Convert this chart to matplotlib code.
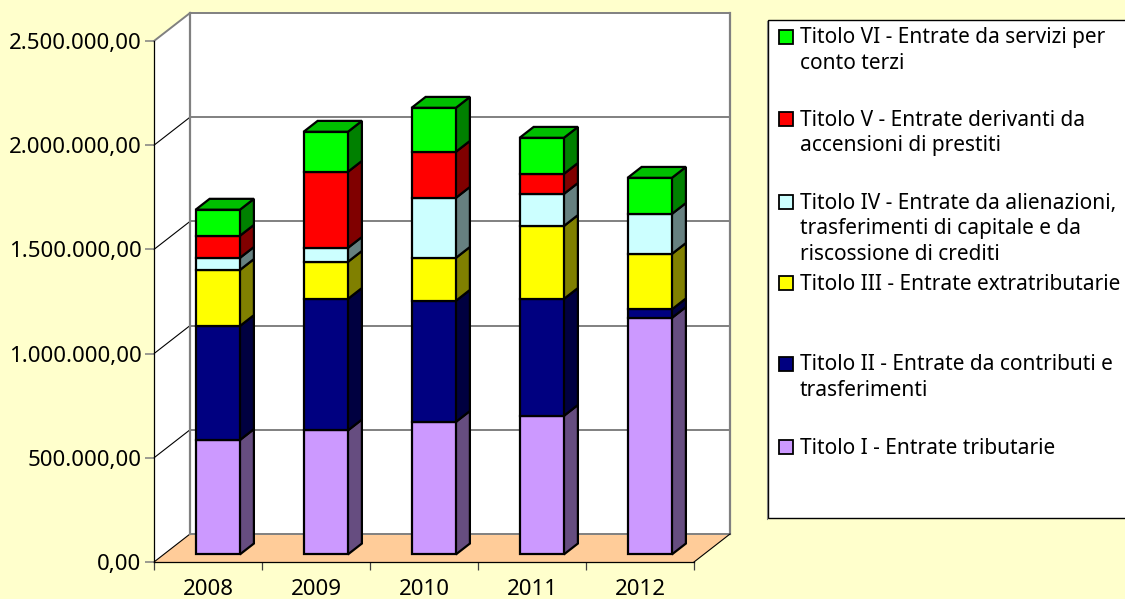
import matplotlib
matplotlib.use('Agg')
import matplotlib.pyplot as plt
from matplotlib.patches import Rectangle

years = ['2008', '2009', '2010', '2011', '2012']

# stacked from bottom to top
titolo_1 = [549000, 595000, 636000, 665000, 1135000]
titolo_2 = [547000, 631000, 581000, 561000, 41000]
titolo_3 = [269000, 178000, 206000, 350000, 266000]
titolo_4 = [58000, 67000, 288000, 154000, 192000]
titolo_5 = [106000, 365000, 221000, 96000, 0]
titolo_6 = [125000, 192000, 211000, 173000, 173000]

series = [titolo_1, titolo_2, titolo_3, titolo_4, titolo_5, titolo_6]
colors = ['#CC99FF', '#000080', '#FFFF00', '#CCFFFF', '#FF0000', '#00FF00']

legend_labels = [
    'Titolo VI - Entrate da servizi per\nconto terzi',
    'Titolo V - Entrate derivanti da\naccensioni di prestiti',
    'Titolo IV - Entrate da alienazioni,\ntrasferimenti di capitale e da\nriscossione di crediti',
    'Titolo III - Entrate extratributarie',
    'Titolo II - Entrate da contributi e\ntrasferimenti',
    'Titolo I - Entrate tributarie',
]
legend_colors = colors[::-1]
legend_y = [37, 119, 202, 283, 364, 447]

W, H = 1125, 599
BG = '#FFFFCC'
GREY = '#808080'
FONT = 'Noto Sans'
FS_TICK = 16
FS_LEG = 15

# oblique offset of the back wall, in data units
DX = 36 / 108
DY = 28 / 104.2 * 500000
BAR_W = 0.41
BAR_FRONT = 0.27
BAR_BACK = 0.66
YMAX = 2500000


def proj(x, v, d):
    return x + d * DX, v + d * DY


def shade(col, k):
    r, g, b = matplotlib.colors.to_rgb(col)
    return (r * k, g * k, b * k)


def face(ax, corners, color, z=3):
    pts = [proj(*c) for c in corners]
    ax.fill([p[0] for p in pts], [p[1] for p in pts], facecolor=color, edgecolor='black',
            linewidth=1.6, joinstyle='miter', clip_on=False, zorder=z)


def money(v):
    return f'{v:,.2f}'.replace(',', 'X').replace('.', ',').replace('X', '.')


fig = plt.figure(figsize=(W / 100, H / 100), dpi=100, facecolor=BG)
ax = fig.add_axes([154 / W, 1 - 562 / H, 540 / W, 521 / H])
ax.set_xlim(0, 5)
ax.set_ylim(0, YMAX)
ax.patch.set_visible(False)
for s in ['top', 'right']:
    ax.spines[s].set_visible(False)
ax.spines['left'].set_color('black')
ax.spines['bottom'].set_color('black')
ax.spines['left'].set_linewidth(0.9)
ax.spines['bottom'].set_linewidth(0.9)

# walls and floor
bx = [proj(0, 0, 1)[0], proj(5, 0, 1)[0], proj(5, YMAX, 1)[0], proj(0, YMAX, 1)[0]]
by = [proj(0, 0, 1)[1], proj(5, 0, 1)[1], proj(5, YMAX, 1)[1], proj(0, YMAX, 1)[1]]
ax.fill(bx, by, color='white', clip_on=False, zorder=0, linewidth=0)
lx = [0, proj(0, 0, 1)[0], proj(0, YMAX, 1)[0], 0]
ly = [0, proj(0, 0, 1)[1], proj(0, YMAX, 1)[1], YMAX]
ax.fill(lx, ly, color='white', clip_on=False, zorder=0, linewidth=0)
fx = [0, 5, proj(5, 0, 1)[0], proj(0, 0, 1)[0]]
fy = [0, 0, proj(5, 0, 1)[1], proj(0, 0, 1)[1]]
ax.fill(fx, fy, color='#FFCC99', clip_on=False, zorder=0.5, linewidth=0)

# gridlines on back wall and diagonals on the left wall
for v in range(0, YMAX + 1, 500000):
    x0, y0 = proj(0, v, 1)
    x1, y1 = proj(5, v, 1)
    ax.plot([x0, x1], [y0, y1], color=GREY, lw=1.4, clip_on=False, zorder=1, solid_capstyle='projecting')
    col, lw = (GREY, 1.4) if v == YMAX else ('black', 0.8)
    ax.plot([0, x0], [v, y0], color=col, lw=lw, clip_on=False, zorder=1)
for x in (0, 5):
    x0, y0 = proj(x, 0, 1)
    x1, y1 = proj(x, YMAX, 1)
    ax.plot([x0, x1], [y0, y1], color=GREY, lw=1.6, clip_on=False, zorder=1)
x0, y0 = proj(5, 0, 1)
ax.plot([5, x0], [0, y0], color='black', lw=0.8, clip_on=False, zorder=1)

# stacked 3d bars
for i in range(len(years)):
    left = i + 0.5 - BAR_W / 2
    right = left + BAR_W
    bottom = 0
    top_color = None
    for vals, col in zip(series, colors):
        v = vals[i]
        if v == 0:
            continue
        top = bottom + v
        face(ax, [(right, bottom, BAR_FRONT), (right, bottom, BAR_BACK),
                  (right, top, BAR_BACK), (right, top, BAR_FRONT)], shade(col, 0.5))
        face(ax, [(left, bottom, BAR_FRONT), (right, bottom, BAR_FRONT),
                  (right, top, BAR_FRONT), (left, top, BAR_FRONT)], col, z=4)
        bottom = top
        top_color = col
    face(ax, [(left, bottom, BAR_FRONT), (right, bottom, BAR_FRONT),
              (right, bottom, BAR_BACK), (left, bottom, BAR_BACK)], shade(top_color, 0.75))

ax.set_xticks(range(6))
ax.set_xticklabels([])
ax.set_xticks([i + 0.5 for i in range(5)], labels=years, minor=True)
ax.tick_params(axis='x', which='major', length=6, width=0.9, color='#404040')
ax.tick_params(axis='x', which='minor', length=0, pad=12, labelsize=FS_TICK, labelcolor='black')
ax.set_yticks(range(0, YMAX + 1, 500000))
ax.set_yticklabels([money(v) for v in range(0, YMAX + 1, 500000)])
ax.tick_params(axis='y', length=6.5, width=1.1, color=GREY, pad=2.5, labelsize=FS_TICK)
for t in ax.get_xticklabels(which='minor') + ax.get_yticklabels():
    t.set_fontfamily(FONT)

# legend, laid out in figure pixels
lg = fig.add_axes([0, 0, 1, 1], facecolor='none')
lg.set_xlim(0, W)
lg.set_ylim(H, 0)
lg.axis('off')
lg.add_patch(Rectangle((768, 20), W, 498, facecolor='white', edgecolor='black', lw=1.0))
lg.plot([767, 767], [21, 519], color=GREY, lw=0.8)
for lab, col, y in zip(legend_labels, legend_colors, legend_y):
    lg.add_patch(Rectangle((779, y - 7), 14, 14, facecolor=col, edgecolor='black', lw=1.3))
    for k, line in enumerate(lab.split('\n')):
        lg.text(800, y + 6.5 + k * 25.5, line, fontsize=FS_LEG, family=FONT, va='baseline', ha='left', color='black')

fig.savefig('out.png', dpi=100, facecolor=BG)
